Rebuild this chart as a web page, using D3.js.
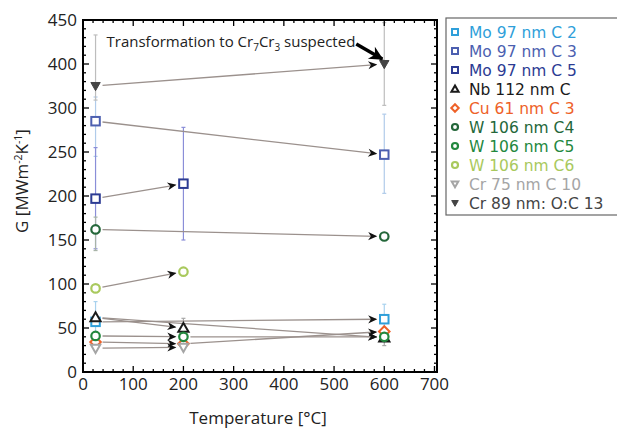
<!DOCTYPE html>
<html>
<head>
<meta charset="utf-8">
<script src="https://cdn.jsdelivr.net/npm/d3@7"></script>
<style>
  body { margin: 0; background: #fff; }
  svg { font-family: "Open Sans", "Noto Sans", sans-serif; }
</style>
</head>
<body>
<svg id="chart" width="617" height="428"></svg>
<script>
// x tick labels and the y tick labels as printed (note: no 350 on the original axis)
var xTicks = [0, 100, 200, 300, 400, 500, 600, 700];
var yTicks = [0, 50, 100, 150, 200, 250, 300, 400, 450];

// one array per sample: temperature [°C], G, error bar low/high
var moC2 = [{t: 25, g: 57, lo: 42, hi: 80}, {t: 600, g: 60, lo: 45, hi: 77}];
var moC3 = [{t: 25, g: 285, lo: 245, hi: 325}, {t: 600, g: 247, lo: 203, hi: 293}];
var moC5 = [{t: 25, g: 197, lo: 140, hi: 255}, {t: 200, g: 214, lo: 150, hi: 278}];
var nb = [{t: 25, g: 62}, {t: 200, g: 50, lo: 42, hi: 61}, {t: 600, g: 39, lo: 30, hi: 46}];
var cu = [{t: 25, g: 34}, {t: 200, g: 32}, {t: 600, g: 46}];
var wC4 = [{t: 25, g: 162, lo: 138, hi: 176}, {t: 600, g: 154}];
var wC5 = [{t: 25, g: 41}, {t: 200, g: 40}, {t: 600, g: 40}];
var wC6 = [{t: 25, g: 95}, {t: 200, g: 114}];
var cr75 = [{t: 25, g: 27}, {t: 200, g: 28}];
var cr89 = [{t: 25, g: 350, lo: 318, hi: 433}, {t: 600, g: 400, lo: 306, hi: 447}];

var seriesNames = ["Mo 97 nm C 2", "Mo 97 nm C 3", "Mo 97 nm C 5", "Nb 112 nm C", "Cu 61 nm C 3",
  "W 106 nm C4", "W 106 nm C5", "W 106 nm C6", "Cr 75 nm C 10", "Cr 89 nm: O:C 13"];
var seriesData = [moC2, moC3, moC5, nb, cu, wC4, wC5, wC6, cr75, cr89];
// which points are joined by an arrow (index pairs inside each series)
var seriesArrows = [[[0, 1]], [[0, 1]], [[0, 1]], [[0, 1], [0, 2]], [[0, 1], [1, 2]],
  [[0, 1]], [[0, 1], [1, 2]], [[0, 1]], [[0, 1]], [[0, 1]]];

var seriesColors = ["#2f9fda", "#4c5fb0", "#2c3b93", "#1a1a1a", "#ee6128",
  "#24673a", "#23883e", "#a9c95d", "#a5a5a5", "#444444"];
var errColors = ["#a9d2ee", "#b0cbea", "#8a8ed8", "#a8a8a8", "#f0a080",
  "#a8b4a8", "#90c49a", "#c8dca0", "#c8c8c8", "#bdbdbd"];
var seriesShapes = ["square", "square", "square", "triUp", "diamond",
  "circle", "circle", "circle", "triDown", "triDownFilled"];

var svg = d3.select("#chart");
var margin = {top: 20, left: 83};
var plotWidth = 354;
var plotHeight = 352;

var plot = svg.append("g").attr("transform", translate(margin.left, margin.top));

var xScale = d3.scaleLinear().domain([0, 705]).range([0, plotWidth]);
// printed labels are evenly spaced, so map them piecewise
var yScale = d3.scaleLinear()
  .domain([0, 300, 400, 450])
  .range([plotHeight, plotHeight * 2 / 8, plotHeight / 8, 0]);

var defs = svg.append("defs");
defs.append("marker")
  .attr("id", "head")
  .attr("viewBox", "0 -5 10 10")
  .attr("refX", 9).attr("refY", 0)
  .attr("markerUnits", "userSpaceOnUse")
  .attr("markerWidth", 10).attr("markerHeight", 9)
  .attr("orient", "auto")
  .append("path")
  .attr("d", "M0,-4.5L10,0L0,4.5L3,0Z")
  .attr("fill", "#111");
defs.append("marker")
  .attr("id", "bighead")
  .attr("viewBox", "0 -5 10 10")
  .attr("refX", 9).attr("refY", 0)
  .attr("markerUnits", "userSpaceOnUse")
  .attr("markerWidth", 16).attr("markerHeight", 14)
  .attr("orient", "auto")
  .append("path")
  .attr("d", "M0,-5L10,0L0,5L3,0Z")
  .attr("fill", "#000");

// error bars
seriesData.forEach(function(series, i) {
  series.filter(function(d) { return d.lo != null; }).forEach(function(d) {
    var x = xScale(d.t);
    var g = plot.append("g").attr("stroke", errColors[i]).attr("stroke-width", 1.2);
    g.append("line").attr("x1", x).attr("x2", x).attr("y1", yScale(d.lo)).attr("y2", yScale(d.hi));
    g.append("line").attr("x1", x - 2).attr("x2", x + 2).attr("y1", yScale(d.lo)).attr("y2", yScale(d.lo));
    g.append("line").attr("x1", x - 2).attr("x2", x + 2).attr("y1", yScale(d.hi)).attr("y2", yScale(d.hi));
  });
});

// arrows between temperatures
seriesData.forEach(function(series, i) {
  seriesArrows[i].forEach(function(pair) {
    var a = series[pair[0]], b = series[pair[1]];
    var x1 = xScale(a.t), y1 = yScale(a.g), x2 = xScale(b.t), y2 = yScale(b.g);
    var len = Math.sqrt((x2 - x1) * (x2 - x1) + (y2 - y1) * (y2 - y1));
    var ux = (x2 - x1) / len, uy = (y2 - y1) / len;
    plot.append("line")
      .attr("x1", x1 + ux * 7).attr("y1", y1 + uy * 7)
      .attr("x2", x2 - ux * 8).attr("y2", y2 - uy * 8)
      .attr("stroke", "#9b918d")
      .attr("stroke-width", 1.3)
      .attr("marker-end", "url(#head)");
  });
});

function drawShape(g, shape, color, s) {
  if (shape === "square") {
    g.append("rect").attr("x", -s / 2).attr("y", -s / 2).attr("width", s).attr("height", s)
      .attr("fill", "#fff").attr("stroke", color).attr("stroke-width", 2);
  } else if (shape === "circle") {
    g.append("circle").attr("r", s / 2).attr("fill", "#fff").attr("stroke", color).attr("stroke-width", 2.2);
  } else if (shape === "diamond") {
    var h = s * 0.62;
    g.append("path").attr("d", "M0," + (-h) + "L" + h + ",0L0," + h + "L" + (-h) + ",0Z")
      .attr("fill", "#fff").attr("stroke", color).attr("stroke-width", 2);
  } else if (shape === "triUp") {
    var t = s * 0.6;
    g.append("path").attr("d", "M0," + (-t) + "L" + t + "," + (t * 0.75) + "L" + (-t) + "," + (t * 0.75) + "Z")
      .attr("fill", "#fff").attr("stroke", color).attr("stroke-width", 2);
  } else {
    var r = s * 0.55;
    g.append("path").attr("d", "M0," + r + "L" + r + "," + (-r * 0.75) + "L" + (-r) + "," + (-r * 0.75) + "Z")
      .attr("fill", shape === "triDownFilled" ? color : "#fff")
      .attr("stroke", color).attr("stroke-width", shape === "triDownFilled" ? 1 : 2);
  }
}

// markers
seriesData.forEach(function(series, i) {
  plot.selectAll(".pt" + i)
    .data(series)
    .enter()
    .append("g")
    .attr("class", "pt" + i)
    .attr("transform", function(d) { return translate(xScale(d.t), yScale(d.g)); })
    .each(function() { drawShape(d3.select(this), seriesShapes[i], seriesColors[i], 8.5); });
});

// annotation
var note = plot.append("text")
  .attr("x", xScale(25) + 11)
  .attr("y", 27)
  .attr("font-size", 15)
  .attr("fill", "#222");
note.append("tspan").text("Transformation to Cr");
note.append("tspan").attr("font-size", 10).attr("dy", 4).text("7");
note.append("tspan").attr("dy", -4).text("Cr");
note.append("tspan").attr("font-size", 10).attr("dy", 4).text("3");
note.append("tspan").attr("dy", -4).text(" suspected");
plot.append("line")
  .attr("x1", xScale(600) - 28).attr("y1", yScale(400) - 20)
  .attr("x2", xScale(600) - 2).attr("y2", yScale(400) - 5)
  .attr("stroke", "#000").attr("stroke-width", 3.5)
  .attr("marker-end", "url(#bighead)");

// frame with inward ticks on all sides
function addTicks(values, len, isX) {
  values.forEach(function(v) {
    if (isX) {
      var x = xScale(v);
      plot.append("line").attr("x1", x).attr("x2", x).attr("y1", plotHeight).attr("y2", plotHeight - len).attr("stroke", "#000").attr("stroke-width", 1.3);
      plot.append("line").attr("x1", x).attr("x2", x).attr("y1", 0).attr("y2", len).attr("stroke", "#000").attr("stroke-width", 1.3);
    } else {
      var y = yScale(v);
      plot.append("line").attr("x1", 0).attr("x2", len).attr("y1", y).attr("y2", y).attr("stroke", "#000").attr("stroke-width", 1.3);
      plot.append("line").attr("x1", plotWidth).attr("x2", plotWidth - len).attr("y1", y).attr("y2", y).attr("stroke", "#000").attr("stroke-width", 1.3);
    }
  });
}
var xMinor = d3.range(20, 705, 20).filter(function(v) { return v % 100 !== 0; });
var yMinor = [];
for (var k = 0; k < yTicks.length - 1; k++) {
  for (var m = 1; m < 5; m++) yMinor.push(yTicks[k] + (yTicks[k + 1] - yTicks[k]) * m / 5);
}
addTicks(xTicks, 6, true);
addTicks(xMinor, 3, true);
addTicks(yTicks, 6, false);
addTicks(yMinor, 3, false);

plot.append("rect")
  .attr("width", plotWidth).attr("height", plotHeight)
  .attr("fill", "none").attr("stroke", "#000").attr("stroke-width", 2);

plot.selectAll(".xlab")
  .data(xTicks)
  .enter()
  .append("text")
  .attr("class", "xlab")
  .attr("x", function(d) { return xScale(d); })
  .attr("y", plotHeight + 18)
  .attr("text-anchor", "middle")
  .attr("font-size", 17)
  .attr("fill", "#222")
  .text(function(d) { return d; });

plot.selectAll(".ylab")
  .data(yTicks)
  .enter()
  .append("text")
  .attr("class", "ylab")
  .attr("x", -6)
  .attr("y", function(d) { return yScale(d); })
  .attr("dy", "0.36em")
  .attr("text-anchor", "end")
  .attr("font-size", 17)
  .attr("fill", "#222")
  .text(function(d) { return d; });

svg.append("text")
  .attr("x", margin.left + plotWidth / 2 - 2)
  .attr("y", 424)
  .attr("text-anchor", "middle")
  .attr("font-size", 17)
  .attr("fill", "#222")
  .text("Temperature [°C]");

var yTitle = svg.append("text")
  .attr("transform", translate(28, 181) + " rotate(-90)")
  .attr("text-anchor", "middle")
  .attr("font-size", 17)
  .attr("fill", "#222");
yTitle.append("tspan").text("G [MWm");
yTitle.append("tspan").attr("font-size", 10.5).attr("dy", -6).text("-2");
yTitle.append("tspan").attr("dy", 6).text("K");
yTitle.append("tspan").attr("font-size", 10.5).attr("dy", -6).text("-1");
yTitle.append("tspan").attr("dy", 6).text("]");

// legend
var legend = svg.append("g").attr("transform", translate(446, 18));
legend.append("rect")
  .attr("width", 180).attr("height", 197)
  .attr("fill", "#fff").attr("stroke", "#666").attr("stroke-width", 1.2);

var legendItems = legend.selectAll(".item")
  .data(seriesNames)
  .enter()
  .append("g")
  .attr("class", "item")
  .attr("transform", function(d, i) { return translate(0, 14 + i * 19); });

legendItems.each(function(d, i) {
  var g = d3.select(this).append("g").attr("transform", translate(9, 0));
  drawShape(g, seriesShapes[i], seriesColors[i], 6);
});

// tighter line metrics than Open Sans so the stacked rows do not collide
legendItems.append("text")
  .attr("x", 23)
  .attr("dy", "0.36em")
  .attr("font-family", "'DejaVu Sans', sans-serif")
  .attr("font-size", 15.5)
  .attr("fill", function(d, i) { return seriesColors[i]; })
  .text(function(d) { return d; });

function translate(x, y) {
  return "translate(" + x + "," + y + ")";
}
</script>
</body>
</html>
